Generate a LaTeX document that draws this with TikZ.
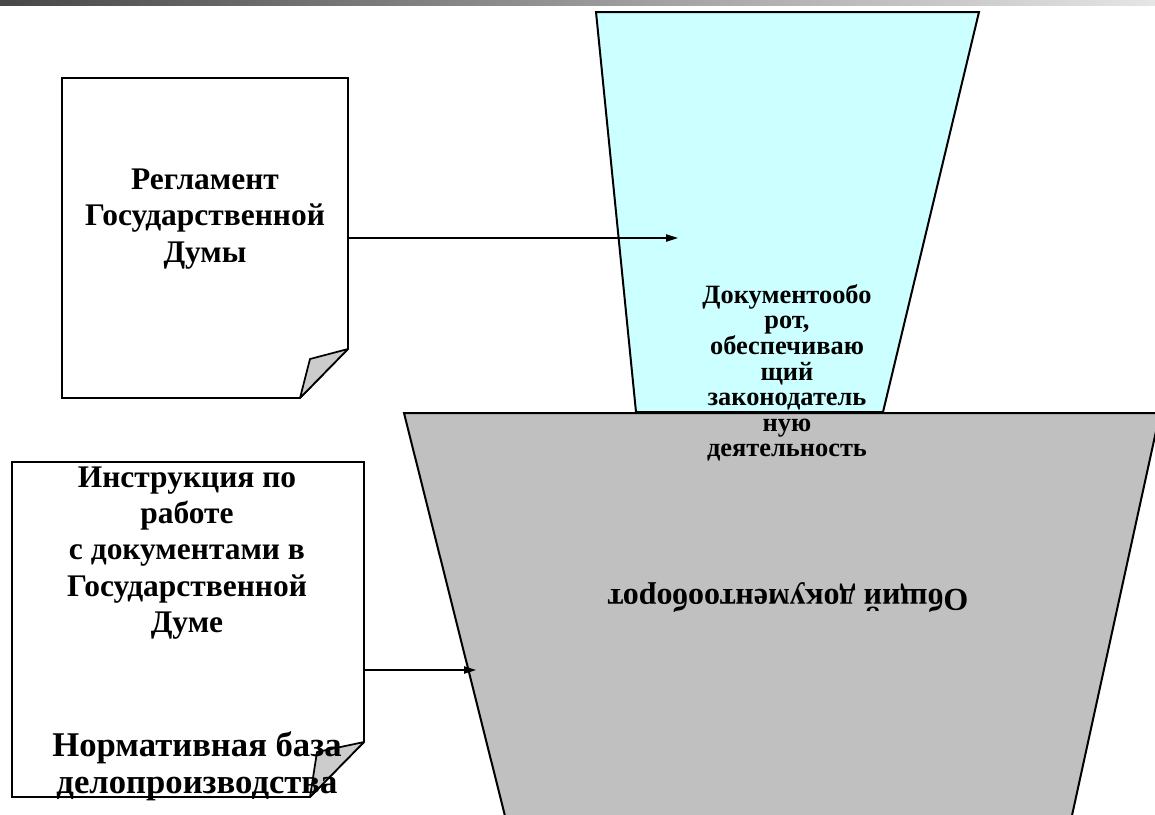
\documentclass[tikz,border=0pt]{standalone}
\usepackage{fontspec}
\setmainfont{Liberation Serif}
\usetikzlibrary{positioning,arrows.meta}
\definecolor{funnelblue}{HTML}{CCFFFF}
\definecolor{funnelgray}{HTML}{C0C0C0}
\definecolor{foldgray}{HTML}{CCCCCC}

\begin{document}
\begin{tikzpicture}[
    x=0.75pt, y=-0.75pt,
    >={Triangle[length=9pt, width=5.5pt]},
    doc/.style={draw, line width=1.3pt, fill=white},
    fold/.style={draw, line width=1.3pt, fill=foldgray, line join=round},
    funnel/.style={draw, line width=1.5pt},
    doctext/.style={align=center, inner sep=0pt, font=\bfseries\fontsize{23.6}{27.2}\selectfont},
    basetext/.style={align=center, inner sep=0pt, font=\bfseries\fontsize{26}{27.8}\selectfont},
    smalltext/.style={align=center, inner sep=0pt, font=\bfseries\fontsize{19.8}{19.2}\selectfont},
    arrow/.style={->, line width=1pt},
]
    \useasboundingbox (0,0) rectangle (1155,814);

    % Top bar
    \shade[left color=black!72, right color=black!10] (0,0) rectangle (1155,5);

    % Funnels
    \draw[funnel, fill=funnelblue] (596,12) -- (979,12) -- (883,412) -- (636,412) -- cycle;
    \draw[funnel, fill=funnelgray] (404,413) -- (1160,413) -- (1071,820) -- (506,820) -- cycle;

    % Documents
    \draw[doc] (62,78) -- (348,78) -- (348,349) -- (300,398) -- (62,398) -- cycle;
    \draw[fold] (348,349) -- (310,359) -- (300,398) -- cycle;
    \draw[doc] (12,462) -- (364,462) -- (364,742) -- (310,797) -- (12,797) -- cycle;
    \draw[fold] (364,742) -- (317,752) -- (310,797) -- cycle;

    % Labels
    \node[doctext] (reglament) at (205,219) {Регламент\\Государственной\\Думы};
    \node[doctext] (instr) at (187,553) {Инструкция по\\работе\\с документами в\\Государственной\\Думе};
    \node[basetext] (baza) at (197,766) {Нормативная база\\делопроизводства};
    \node[smalltext] (legis) at (787,373) {Документообо\\рот,\\обеспечиваю\\щий\\законодатель\\ную\\деятельность};
    \node[font=\bfseries\fontsize{24}{26}\selectfont, rotate=180] (common) at (788,597) {Общий документооборот};

    % Connectors
    \coordinate (reg out) at (348,238);
    \coordinate (reg in) at (678,238);
    \coordinate (instr out) at (364,670);
    \coordinate (instr in) at (476,670);
    \draw[arrow] (reg out) -- (reg in);
    \draw[arrow] (instr out) -- (instr in);

\end{tikzpicture}
\end{document}
